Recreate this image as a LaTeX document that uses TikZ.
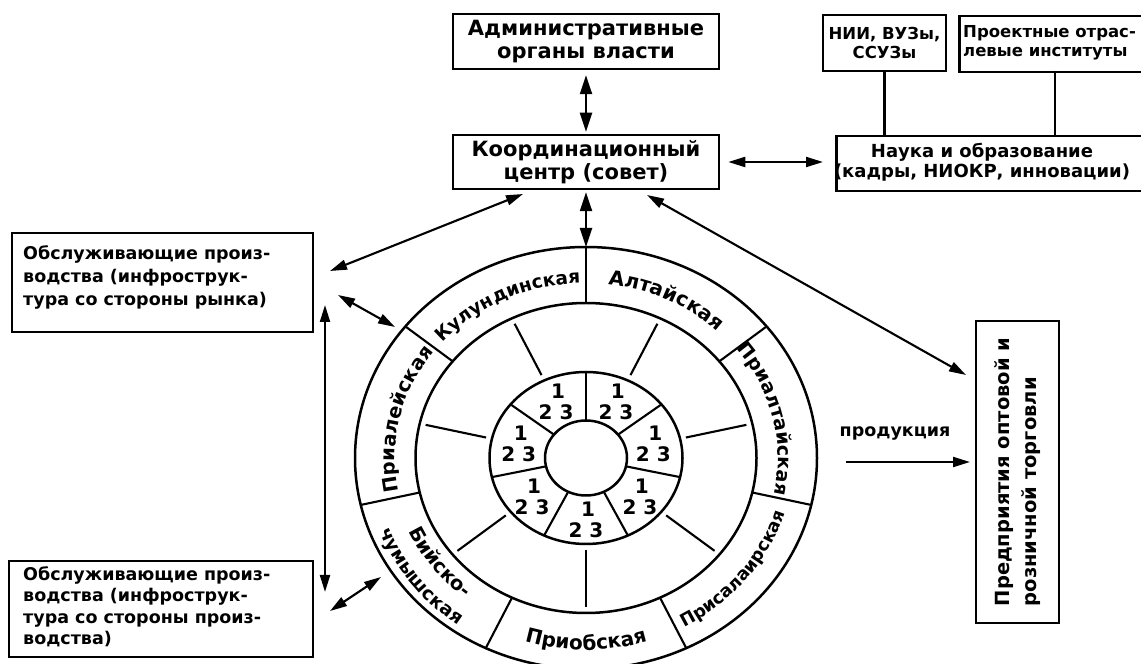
\documentclass[tikz,border=0pt]{standalone}
\usepackage{fontspec}
\setmainfont{DejaVu Sans}
\usetikzlibrary{arrows.meta,decorations.text,calc}
\newcommand\FAdm{\bfseries\fontsize{21pt}{23pt}\selectfont}
\newcommand\FNii{\bfseries\fontsize{16.5pt}{19pt}\selectfont}
\newcommand\FPro{\bfseries\fontsize{16.5pt}{19pt}\selectfont}
\newcommand\FNau{\bfseries\fontsize{18pt}{20pt}\selectfont}
\newcommand\FObs{\bfseries\fontsize{17.5pt}{23pt}\selectfont}
\newcommand\FObb{\bfseries\fontsize{17.5pt}{21.5pt}\selectfont}
\newcommand\FPdt{\bfseries\fontsize{19.5pt}{27pt}\selectfont}
\newcommand\FPrd{\bfseries\fontsize{17.5pt}{20pt}\selectfont}
\newcommand\FDig{\bfseries\fontsize{20pt}{21pt}\selectfont}
\newcommand\FRa{\bfseries\fontsize{18.5pt}{20pt}\selectfont}
\newcommand\FRb{\bfseries\fontsize{20pt}{20pt}\selectfont}
\newcommand\FRc{\bfseries\fontsize{19pt}{20pt}\selectfont}
\newcommand\FRd{\bfseries\fontsize{17.5pt}{20pt}\selectfont}
\newcommand\FRe{\bfseries\fontsize{20pt}{20pt}\selectfont}
\newcommand\FRf{\bfseries\fontsize{19.5pt}{20pt}\selectfont}
\newcommand\FRg{\bfseries\fontsize{18.5pt}{20pt}\selectfont}
\newcommand\FRh{\bfseries\fontsize{19.5pt}{20pt}\selectfont}
\begin{document}
\begin{tikzpicture}[x=1pt,y=1pt,
  box/.style={draw,line width=2.5pt,inner sep=2pt},
  conn/.style={line width=2.3pt},
  dbl/.style={line width=2.1pt,{Triangle[length=17pt,width=10pt]}-{Triangle[length=17pt,width=10pt]}},
  dblbig/.style={line width=2.3pt,{Triangle[length=19pt,width=12pt]}-{Triangle[length=19pt,width=12pt]}},
  sgl/.style={line width=2.1pt,-{Triangle[length=17pt,width=10pt]}},
  ringline/.style={line width=2.5pt},
  spoke/.style={line width=2.1pt},
  txt/.style={inner sep=0pt},
  ringtext/.style={decorate,decoration={text along path,text align=center,text={#1}}}
]
\useasboundingbox (0,0) rectangle (1141,664);
\fill[white] (0,0) rectangle (1141,664);

% boxes
\node[box,minimum width=266pt,minimum height=55pt,align=center,font=\FAdm] (admin) at (586,622.5) {Административные\\органы власти};
\node[box,minimum width=266pt,minimum height=54pt,align=center,font=\FAdm] (coord) at (586,502) {Координационный\\центр (совет)};
\node[box,minimum width=123pt,minimum height=56pt,align=center,font=\FNii] (nii) at (884.5,621) {НИИ, ВУЗы,\\ССУЗы};
\node[box,minimum width=202pt,minimum height=56pt,anchor=north west] (proekt) at (958,649) {};
\node[txt,anchor=west,align=left,font=\FPro] (proekttext) at (963,621) {Проектные отрас-\\левые институты};
\node[box,minimum width=325pt,minimum height=55pt,anchor=north west] (nauka) at (835,529) {};
\node[txt,align=center,font=\FNau] (naukatext) at (982,502) {Наука и образование\\(кадры, НИОКР, инновации)};
\node[box,minimum width=301pt,minimum height=99pt] (lt) at (162.5,381.5) {};
\node[txt,anchor=north west,align=left,font=\FObs] (lttext) at (23,419) {Обслуживающие произ-\\водства (инфрострук-\\тура со стороны рынка)};
\node[box,minimum width=304pt,minimum height=96pt] (lb) at (161,55) {};
\node[txt,anchor=north west,align=left,font=\FObb] (lbtext) at (23,98) {Обслуживающие произ-\\водства (инфрострук-\\тура со стороны произ-\\водства)};
\node[box,rotate=90,minimum width=302pt,minimum height=83pt,align=left,font=\FPdt] (predpr) at (1017.5,192) {Предприятия оптовой и\\розничной торговли};
\node[txt,font=\FPrd] (prod) at (895,231) {продукция};

% connectors
\coordinate (pj) at (1055,593);
\draw[conn] (nii.south) -- (nii.south |- nauka.north);
\draw[conn] (pj) -- (pj |- nauka.north);
\draw[dblbig,shorten <=5pt,shorten >=2pt] (admin.south) -- (coord.north);
\draw[dbl,shorten <=8pt,shorten >=12pt] (coord.east) -- (nauka.west |- coord.east);
\coordinate (rtop) at (586,417);
\draw[dblbig,shorten <=2pt] (coord.south) -- (rtop);
\coordinate (a4s) at (523,470); \coordinate (a4e) at (330,393);
\draw[dbl] (a4s) -- (a4e);
\coordinate (a5s) at (647,469); \coordinate (a5e) at (966,289);
\draw[dbl] (a5s) -- (a5e);
\coordinate (a6s) at (338,369); \coordinate (a6e) at (395,337);
\draw[dbl] (a6s) -- (a6e);
\coordinate (a7s) at (325,359); \coordinate (a7e) at (325,72);
\draw[dbl] (a7s) -- (a7e);
\coordinate (a8s) at (330,53); \coordinate (a8e) at (381,87);
\draw[dbl] (a8s) -- (a8e);
\coordinate (a9s) at (846,202); \coordinate (a9e) at (970,202);
\draw[sgl] (a9s) -- (a9e);

% rings
\begin{scope}[shift={(586,206)}]
 \draw[ringline] (0,0) ellipse[x radius=41pt,y radius=37.5pt];
 \draw[ringline] (0,0) ellipse[x radius=96.5pt,y radius=86pt];
 \draw[ringline] (0,0) ellipse[x radius=170.5pt,y radius=155pt];
 \draw[ringline] (0,0) ellipse[x radius=231pt,y radius=211pt];
 \foreach \k in {0,...,6}{
   \pgfmathsetmacro\a{90-51.4286*\k}
   \draw[spoke] (\a:170.5pt and 155pt) -- (\a:231pt and 211pt);
   \draw[spoke] (\a:41pt and 37.5pt) -- (\a:96.5pt and 86pt);
   \pgfmathsetmacro\b{-90+51.4286*\k}
   \draw[spoke] (\b:102.5pt and 92pt) -- (\b:164.5pt and 149pt);
   \pgfmathsetmacro\c{64.2857-51.4286*\k}
   \node[font=\FDig,align=center,txt] (d\k) at (\c:69pt and 62pt) {\hspace*{4pt}1\\2 3};
 }
 \path[ringtext={|\FRa|Кулундинская}] (155.7:191pt and 175pt) arc[start angle=155.7,end angle=75.7,x radius=191pt,y radius=175pt];
 \path[ringtext={|\FRb|Алтайская}] (104.3:191pt and 175pt) arc[start angle=104.3,end angle=24.3,x radius=191pt,y radius=175pt];
 \path[ringtext={|\FRc|Приалтайская}] (52.9:192pt and 176pt) arc[start angle=52.9,end angle=-27.1,x radius=192pt,y radius=176pt];
 \path[ringtext={|\FRh|Приалейская}] (207.1:191pt and 175pt) arc[start angle=207.1,end angle=127.1,x radius=191pt,y radius=175pt];
 \path[ringtext={|\FRd|Присалаирская}] (-78.6:207.5pt and 192pt) arc[start angle=-78.6,end angle=1.4,x radius=207.5pt,y radius=192pt];
 \path[ringtext={|\FRe|Приобская}] (-130:207.5pt and 192pt) arc[start angle=-130,end angle=-50,x radius=207.5pt,y radius=192pt];
 \path[ringtext={|\FRf|Бийско-}] (-183:194pt and 179pt) arc[start angle=-183,end angle=-103,x radius=194pt,y radius=179pt];
 \path[ringtext={|\FRg|чумышская}] (-183:221pt and 205pt) arc[start angle=-183,end angle=-103,x radius=221pt,y radius=205pt];
\end{scope}
\end{tikzpicture}
\end{document}
